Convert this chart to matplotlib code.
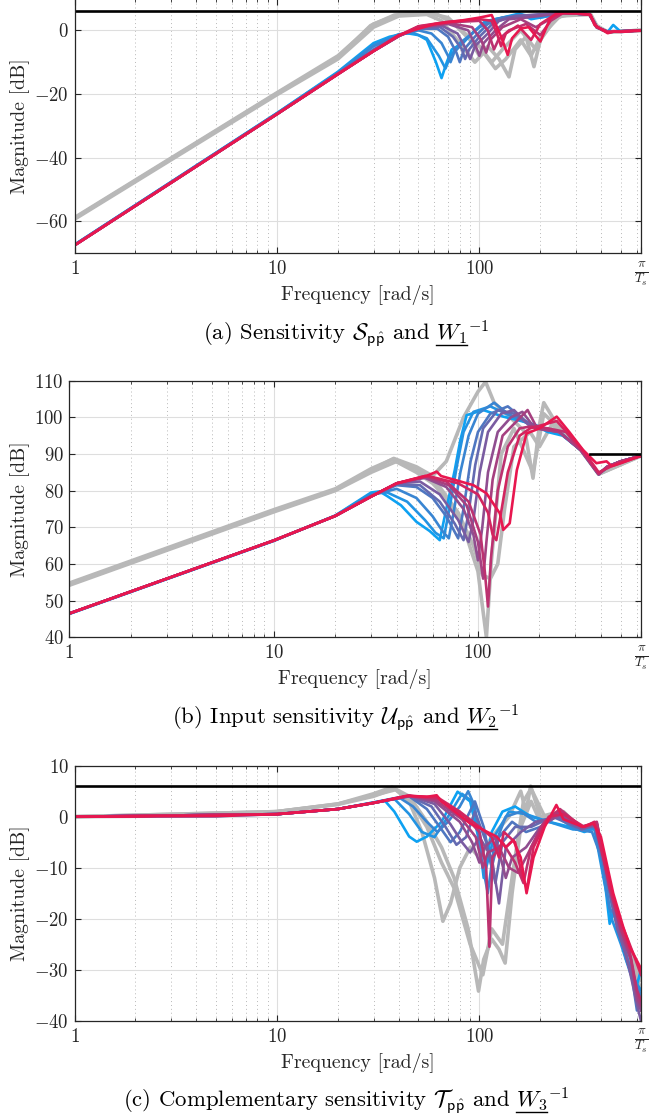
import numpy as np
import matplotlib
matplotlib.use("Agg")
import matplotlib.pyplot as plt
from matplotlib.lines import Line2D
from matplotlib.ticker import FixedLocator, FixedFormatter, LogLocator, NullFormatter

# ---------------------------------------------------------------- data
# frequency axis ends at the Nyquist frequency pi/Ts (Ts = 5 ms)
f_nyq = 200 * np.pi

# (a) sensitivity, grey = measured curves of the initial controller
s_grey = [
    [(1, -59), (10, -19.8), (20, -8.5), (29, 1.5), (38, 4.8), (50, 5.2), (62, 5), (75, 2), (90, -3),
     (100, -8), (110, -5), (125, -9), (140, -14.6), (150, -6), (170, -2), (186, -11.4), (200, -3),
     (240, 4), (300, 5.5), (355, 5), (380, 1.5), (430, -0.5), (628, 0)],
    [(1, -59.3), (10, -20.2), (20, -9), (30, 1), (40, 4.5), (55, 5), (65, 3), (80, -4), (95, -10),
     (105, -7), (120, -12), (135, -9), (160, -3), (180, -8), (200, -2), (250, 4.5), (350, 5), (380, 1),
     (430, -0.5), (628, 0)],
    [(1, -58.8), (10, -19.6), (20, -8), (30, 2), (40, 5), (55, 5.5), (70, 4), (85, -1), (100, -5),
     (115, -10), (130, -6), (160, 0), (190, -6), (220, 2), (260, 5), (350, 5), (380, 1), (430, -0.5),
     (628, 0)],
]
# (a) sensitivity, coloured = iterations (blue -> red)
s_iter = [
    [(1, -67.3), (10, -26), (20, -13), (30, -4), (36, -2), (44, -0.9), (50, -1.5), (55, -3), (61, -10),
     (65, -15), (69, -10), (73, -6), (83, -4), (95, 0), (110, 3), (130, 4), (158, 5.3), (180, 3.5),
     (220, 4.5), (260, 5.5), (350, 5), (380, 1), (430, -0.5), (458, 1.7), (500, -0.5), (628, 0)],
    [(1, -67.3), (10, -26), (20, -13.2), (30, -4.5), (40, -1.2), (47, -0.8), (55, -2.5), (63, -8),
     (68, -12), (72, -8), (80, -4), (92, -1), (105, 2.5), (130, 4), (160, 5), (200, 4), (260, 5.5),
     (350, 5), (380, 1), (430, -0.5), (628, 0)],
    [(1, -67.4), (10, -26.1), (20, -13.4), (30, -5), (40, -1.5), (50, 0), (58, -1), (65, -4), (70, -8),
     (72, -10), (75, -7), (85, -3), (100, 1), (120, 3.5), (150, 4.5), (200, 4.5), (260, 5.5), (350, 5),
     (380, 1), (430, -0.5), (628, 0)],
    [(1, -67.4), (10, -26.2), (20, -13.6), (30, -6), (40, -1.5), (50, 0.5), (62, 0.5), (70, -2), (77, -7),
     (80, -10), (84, -6), (95, -2), (110, 2), (130, 4), (160, 4.5), (260, 5.5), (350, 5), (380, 1),
     (430, -0.5), (628, 0)],
    [(1, -67.4), (10, -26.2), (20, -13.6), (30, -6.2), (40, -1.6), (50, 0.6), (64, 1), (74, -2), (82, -6),
     (85, -9), (89, -6), (100, -2), (118, 2.5), (140, 4), (260, 5.5), (350, 5), (380, 1), (430, -0.5),
     (628, 0)],
    [(1, -67.5), (10, -26.3), (20, -13.7), (30, -6.5), (40, -1.8), (50, 0.8), (65, 1.5), (78, -1), (86, -6),
     (90, -9), (95, -5), (110, -1), (125, 3), (150, 4.5), (260, 5.5), (350, 5), (380, 1), (430, -0.5),
     (628, 0)],
    [(1, -67.5), (10, -26.3), (20, -13.7), (30, -6.5), (40, -1.8), (50, 1), (70, 2), (88, 0), (96, -5),
     (100, -8), (105, -4), (120, 0), (140, 3.5), (170, 4), (260, 5.5), (350, 5), (380, 1), (430, -0.5),
     (628, 0)],
    [(1, -67.5), (10, -26.3), (20, -13.7), (30, -6.5), (40, -1.8), (50, 1.1), (72, 2.2), (92, 1), (102, -3),
     (108, -7), (113, -3), (130, 1), (160, 3.5), (190, 1), (230, 4), (260, 5.5), (350, 5), (380, 1),
     (430, -0.5), (628, 0)],
    [(1, -67.5), (10, -26.3), (20, -13.8), (30, -6.5), (40, -1.8), (50, 1.2), (70, 2.5), (100, 3), (110, 0),
     (118, -6), (124, -3), (140, 0), (170, 2), (200, -1.5), (225, 3), (260, 5.5), (350, 5), (380, 1),
     (430, -0.5), (628, 0)],
    [(1, -67.5), (10, -26.3), (20, -13.8), (30, -6.5), (40, -1.6), (50, 1.3), (70, 2.7), (100, 3.5),
     (115, 3), (122, -1), (128, -5), (135, -1), (155, 1.5), (180, -3), (200, 2), (230, 4.5), (260, 5.5),
     (350, 5), (380, 1), (430, -0.5), (628, 0)],
    [(1, -67.5), (10, -26.3), (20, -13.7), (30, -6.5), (40, -1.5), (47, 0), (60, 2), (80, 3), (100, 4),
     (115, 4.8), (128, -2), (138, -7.7), (145, -2.5), (160, 0.6), (175, 1), (200, -3.5), (224, 3.8),
     (240, 5.3), (300, 5.5), (355, 4.8), (370, 1.7), (430, -0.9), (460, -0.4), (500, -0.5), (628, -0.1)],
]
w1_inv = [(1, 6.0), (628.3, 6.0)]

# (b) input sensitivity
u_grey = [
    [(1, 54.5), (10, 74.5), (20, 80.2), (30, 85.6), (38.7, 88.8), (50, 86.5), (60, 84), (70, 88),
     (85, 100), (100, 107), (109, 109.7), (120, 104), (150, 99), (170, 96), (186, 83.4), (200, 98),
     (210, 104), (250, 97), (320, 91), (390, 84.5), (430, 86.5), (628, 89.5)],
    [(1, 54.8), (10, 74.8), (20, 80.5), (30, 86), (38, 88.5), (50, 85), (60, 82), (70, 78), (85, 70),
     (100, 58), (110, 40), (116, 60), (130, 90), (150, 97), (186, 85), (210, 101), (250, 97), (320, 91),
     (390, 84.5), (628, 89.5)],
    [(1, 54.2), (10, 74.2), (20, 80), (30, 85), (40, 88), (50, 86), (65, 81), (80, 74), (95, 65),
     (105, 57), (115, 56), (125, 60), (135, 75), (150, 92), (180, 96), (200, 92), (230, 98), (320, 91),
     (390, 84.5), (628, 89.5)],
]
u_iter = [
    [(1, 46.4), (10, 66.3), (20, 73.2), (30, 79.5), (33, 79.8), (36, 78.5), (42, 76), (50, 71.5),
     (58, 69), (65, 66.5), (70, 75), (77, 85.6), (82, 93.8), (88, 100.6), (106, 102), (133, 100.2),
     (180, 98.4), (220, 96), (260, 95), (320, 91), (390, 84.5), (430, 86.5), (500, 88), (628, 89.5)],
    [(1, 46.4), (10, 66.3), (20, 73.2), (30, 79.2), (36, 79.5), (45, 77), (55, 72), (62, 68.5), (68, 67),
     (73, 76), (79, 87), (85, 96), (95, 101.5), (115, 103), (150, 100), (200, 97.5), (250, 96), (320, 91),
     (390, 84.5), (430, 86.5), (500, 88), (628, 89.5)],
    [(1, 46.5), (10, 66.4), (20, 73.1), (30, 78.8), (40, 80.5), (50, 78), (60, 73), (67, 69), (72, 67),
     (76, 74), (82, 85), (90, 95), (100, 101), (120, 104), (140, 101), (180, 98), (250, 96), (320, 91),
     (390, 84.5), (430, 86.5), (500, 88), (628, 89.5)],
    [(1, 46.5), (10, 66.4), (20, 73.1), (30, 78.5), (40, 81.5), (50, 81), (60, 78), (70, 73), (80, 67),
     (85, 75), (92, 88), (100, 96), (115, 101), (140, 103), (180, 98), (250, 96), (320, 91), (390, 84.5),
     (430, 86.5), (500, 88), (628, 89.5)],
    [(1, 46.5), (10, 66.4), (20, 73.1), (30, 78.5), (40, 81.8), (52, 81.5), (65, 77), (77, 71), (85, 66.5),
     (90, 74), (97, 87), (106, 97), (125, 102), (150, 101), (180, 98), (250, 96), (320, 91), (390, 84.5),
     (430, 86.5), (500, 88), (628, 89.5)],
    [(1, 46.5), (10, 66.4), (20, 73.1), (30, 78.4), (40, 82), (52, 82.5), (65, 79), (80, 72), (90, 66),
     (95, 72), (102, 85), (112, 96), (130, 101), (150, 102), (180, 97.5), (250, 96), (320, 91),
     (390, 84.5), (430, 86.5), (500, 88), (628, 89.5)],
    [(1, 46.5), (10, 66.4), (20, 73.1), (30, 78.4), (40, 82), (55, 83.5), (70, 81), (85, 75), (95, 68),
     (100, 61), (105, 70), (112, 85), (125, 96), (145, 100), (165, 101.5), (190, 97), (250, 96), (320, 91),
     (390, 84.5), (430, 86.5), (500, 88), (628, 89.5)],
    [(1, 46.5), (10, 66.4), (20, 73.1), (30, 78.4), (40, 82), (55, 83.8), (72, 81.5), (88, 76), (100, 66),
     (106, 56), (110, 66), (118, 83), (132, 95), (155, 99), (175, 102), (195, 97), (250, 96), (320, 91),
     (390, 84.5), (430, 86.5), (500, 88), (628, 89.5)],
    [(1, 46.5), (10, 66.4), (20, 73.1), (30, 78.4), (40, 82), (55, 84), (70, 82.5), (90, 77), (103, 68),
     (108, 58), (112, 48.4), (116, 62), (125, 80), (140, 92), (160, 97), (180, 97.5), (220, 97), (270, 96),
     (320, 91), (390, 84.5), (430, 86.5), (500, 88), (628, 89.5)],
    [(1, 46.5), (10, 66.4), (20, 73.1), (30, 78.4), (40, 82), (57, 84), (80, 82), (100, 79), (112, 74),
     (118, 68), (123, 66.5), (128, 72), (140, 85), (160, 95), (180, 97), (243, 99), (327, 91), (390, 85),
     (452, 86.7), (628, 89.5)],
    [(1, 46.5), (10, 66.4), (20, 73.1), (30, 78.4), (40, 82), (57, 84.2), (62.8, 85.2), (66, 84),
     (95, 81.5), (110, 79.3), (128, 73.8), (133, 69.3), (143, 71.1), (155, 85.6), (173, 95.6), (200, 97),
     (243, 100.2), (280, 96), (327, 91.1), (380, 87.5), (426, 88), (452, 86.7), (500, 87.5), (628, 89.5)],
]
w2_inv = [(355, 90.0), (628.3, 90.0)]

# (c) complementary sensitivity
t_grey = [
    [(1, 0), (5, 0.2), (10, 1), (20, 2.5), (30, 4.2), (38.6, 5.3), (45, 3), (52, -3), (60, -12),
     (66, -20.5), (72, -17), (80, -10), (90, -6), (100, -8), (115, -4), (140, 0), (160, 5), (170, 1),
     (179, 6), (200, 0), (250, 1), (320, -2), (380, -1.5), (430, -13), (500, -22), (560, -28), (628, -34)],
    [(1, 0), (10, 1), (20, 2.5), (30, 4.5), (37, 5.8), (45, 4), (55, -1), (65, -6), (75, -12), (88, -22),
     (99, -34.2), (105, -28), (115, -24), (125, -26), (134, -28.7), (145, -15), (160, -2), (180, 3),
     (200, -1), (250, 1), (320, -2), (380, -2), (430, -12), (500, -22), (560, -27), (628, -32)],
    [(1, 0), (10, 1), (20, 2.4), (30, 4), (38, 5.5), (45, 3.5), (55, -2), (65, -9), (75, -14), (90, -25),
     (104, -31), (115, -22), (130, -25), (145, -12), (165, 3), (180, 5.5), (210, 0), (260, 1), (320, -2.5),
     (380, -2), (440, -16), (500, -24), (570, -30), (628, -36)],
]
t_iter = [
    [(1, 0), (5, 0.1), (10, 0.5), (20, 1.5), (30, 2.7), (34, 3.2), (38, 1), (45, -3.9), (49, -4.9),
     (55, -3.9), (65, -1), (78, 4.9), (90, 3), (100, -5), (105, -12), (115, -3), (130, 1), (150, 2),
     (180, 0), (220, -1), (280, -2), (330, -3), (380, -2), (420, -14), (440, -21), (470, -18), (520, -26),
     (560, -30), (600, -33), (628, -30)],
    [(1, 0), (10, 0.5), (20, 1.5), (30, 2.8), (38, 3.5), (45, 0.5), (52, -3), (60, -4), (70, 0), (82, 4.5),
     (92, 3), (100, -3), (108, -10), (118, -4), (140, 1), (170, 0.5), (220, -1), (290, -2.5), (370, -2.5),
     (410, -12), (450, -20), (500, -25), (560, -31), (628, -34)],
    [(1, 0), (10, 0.5), (20, 1.5), (30, 2.8), (40, 3.8), (47, 2), (55, -1), (62, -3), (70, -1), (80, 2),
     (88, 5), (95, 2), (102, -8), (110, -15), (118, -6), (135, 0), (160, 1), (190, -1), (240, 0),
     (300, -2.5), (360, -3), (400, -8), (440, -18), (480, -20), (530, -28), (580, -32), (628, -35)],
    [(1, 0), (10, 0.5), (20, 1.5), (30, 2.7), (45, 4), (55, 1.5), (65, -2.5), (72, -5), (80, -3), (95, 3),
     (105, -2), (115, -10), (125, -4), (145, -1), (170, -3), (200, -2), (250, 0.5), (300, -2), (370, -2),
     (410, -9), (450, -17), (500, -24), (560, -30), (600, -38), (628, -36)],
    [(1, 0), (10, 0.5), (20, 1.5), (30, 2.7), (45, 4), (58, 2), (68, -2), (77, -5.5), (86, -4), (95, 1),
     (108, -5), (120, -13), (130, -5), (150, -2), (180, -2), (230, 0), (300, -2), (375, -2), (420, -11),
     (470, -20), (520, -26), (580, -33), (628, -37)],
    [(1, 0), (10, 0.5), (20, 1.5), (30, 2.7), (45, 4.1), (60, 2.5), (72, -1.5), (82, -5), (90, -7),
     (100, -4), (115, -8), (125, -17), (135, -6), (160, -3), (190, -1), (250, 0), (320, -2.5), (380, -1.5),
     (430, -12), (480, -22), (530, -27), (580, -34), (610, -38), (628, -40)],
    [(1, 0), (10, 0.5), (20, 1.5), (30, 2.7), (45, 4.1), (60, 3), (80, -1), (92, -5), (100, -9), (106, -6),
     (120, -4), (135, -12), (145, -8), (170, -6), (200, -2), (250, 0.5), (320, -2), (380, -1.5),
     (440, -13), (500, -23), (560, -28), (600, -36), (628, -38)],
    [(1, 0), (10, 0.5), (20, 1.5), (30, 2.7), (45, 4.1), (61, 3.2), (82, -0.5), (96, -4), (104, -10),
     (110, -7), (125, -6), (140, -10), (155, -11), (175, -7), (205, -1.5), (250, 1), (320, -2), (380, -1.2),
     (440, -14), (500, -22), (560, -28), (610, -36), (628, -37)],
    [(1, 0), (10, 0.5), (20, 1.5), (30, 2.7), (45, 4.1), (62, 3.5), (85, 0), (100, -3), (108, -10),
     (112, -25.5), (116, -8), (130, -5), (150, -9), (165, -13), (180, -6), (210, -1), (250, 1.5),
     (320, -2), (380, -1), (440, -14), (500, -22), (550, -26), (600, -34), (628, -36)],
    [(1, 0), (10, 0.5), (20, 1.5), (30, 2.7), (45, 4.1), (62, 3.8), (80, 1), (100, -2), (115, -4),
     (125, -8), (132, -3), (150, -5), (163, -12), (172, -14), (185, -6), (220, 0), (260, 0.5), (330, -2),
     (370, -1), (420, -10), (480, -19), (540, -24), (590, -28), (628, -31)],
    [(1, 0), (5, 0.1), (10, 0.5), (20, 1.5), (30, 2.7), (43.7, 4.1), (55, 3.9), (61.5, 4.2), (65, 3),
     (89.8, -1.3), (121.6, -3.9), (135, -6), (147, -4.6), (160, -8), (171, -15), (185, -8), (210, -2),
     (240, 2.3), (260, -0.5), (325, -2), (365, -1.3), (398, -3.9), (458, -15), (513, -21.6),
     (553, -25.5), (621, -29.4), (628, -30)],
]
w3_inv = [(1, 6.0), (628.3, 6.0)]

x_ticks = [1, 10, 100, f_nyq]
x_ticklabels = [r"$1$", r"$10$", r"$100$", r"$\frac{\pi}{T_s}$"]

# ---------------------------------------------------------------- style
plt.rcParams["font.family"] = "cmr10"
plt.rcParams["mathtext.fontset"] = "cm"
plt.rcParams["axes.unicode_minus"] = False

W, H = 671, 1120
fig = plt.figure(figsize=(W / 100, H / 100), dpi=100)

c_blue = np.array([0.05, 0.63, 0.95])
c_red = np.array([0.91, 0.09, 0.31])
c_grey = (0.72, 0.72, 0.72)
c_axis = (0.15, 0.15, 0.15)
fs_tick = 13.5
fs_label = 14.3
fs_cap = 16.4


def box(left, right, top, bottom):
    return [left / W, 1 - bottom / H, (right - left) / W, (bottom - top) / H]


def curve(points):
    f, m = zip(*points)
    return np.array(f), np.array(m)


panels = [
    dict(box=(74.5, 641, -1.5, 253.3), ylim=(-70, 10), yticks=[-60, -40, -20, 0],
         grey=s_grey, iters=s_iter, bound=w1_inv,
         caption=(r"(a) Sensitivity $\mathcal{S}_{\mathsf{p\hat{p}}}$ and ", r"$W_1$", r"$W_1{}^{-1}$")),
    dict(box=(69.4, 641, 380.7, 637.3), ylim=(40, 110), yticks=list(range(40, 111, 10)),
         grey=u_grey, iters=u_iter, bound=w2_inv,
         caption=(r"(b) Input sensitivity $\mathcal{U}_{\mathsf{p\hat{p}}}$ and ", r"$W_2$", r"$W_2{}^{-1}$")),
    dict(box=(74.5, 641, 765.7, 1020.7), ylim=(-40, 10), yticks=list(range(-40, 11, 10)),
         grey=t_grey, iters=t_iter, bound=w3_inv,
         caption=(r"(c) Complementary sensitivity $\mathcal{T}_{\mathsf{p\hat{p}}}$ and ", r"$W_3$",
                  r"$W_3{}^{-1}$")),
]

captions = []
for p in panels:
    left, right, top, bottom = p["box"]
    ax = fig.add_axes(box(left, right, top, bottom))
    ax.set_xscale("log")
    ax.set_xlim(1, f_nyq)
    ax.set_ylim(*p["ylim"])
    ax.set_axisbelow(True)

    for pts in p["grey"]:
        ax.plot(*curve(pts), color=c_grey, lw=2.6, solid_joinstyle="round")
    n = len(p["iters"])
    for i, pts in enumerate(p["iters"]):
        t = i / (n - 1)
        ax.plot(*curve(pts), color=(1 - t) * c_blue + t * c_red, lw=1.9, solid_joinstyle="round")
    ax.plot(*curve(p["bound"]), color="k", lw=1.9)

    ax.xaxis.set_major_locator(FixedLocator(x_ticks))
    ax.xaxis.set_major_formatter(FixedFormatter(x_ticklabels))
    ax.xaxis.set_minor_locator(LogLocator(base=10, subs=np.arange(2, 10)))
    ax.xaxis.set_minor_formatter(NullFormatter())
    ax.yaxis.set_major_locator(FixedLocator(p["yticks"]))
    ax.yaxis.set_major_formatter(FixedFormatter([r"$%d$" % v for v in p["yticks"]]))

    ax.grid(True, which="major", color=(0.87, 0.87, 0.87), lw=0.8)
    ax.grid(True, which="minor", axis="x", color=(0.72, 0.72, 0.72), lw=0.7, ls=(0, (1, 3)))
    ax.tick_params(which="both", direction="in", top=True, right=True, color=c_axis,
                   labelcolor=c_axis, labelsize=fs_tick)
    ax.tick_params(which="major", length=4, width=0.8)
    ax.tick_params(which="minor", length=2.5, width=0.6)
    ax.tick_params(axis="x", pad=5)
    ax.tick_params(axis="y", pad=4)
    for s in ax.spines.values():
        s.set_color(c_axis)
        s.set_linewidth(0.9)

    fig.text(20.5 / W, 1 - (top + bottom) / 2 / H, "Magnitude [dB]", rotation=90,
             ha="center", va="center", fontsize=fs_label, color=c_axis)
    fig.text((left + right) / 2 / W, 1 - (bottom + 42) / H, "Frequency [rad/s]",
             ha="center", va="center", fontsize=fs_label, color=c_axis)

    prefix, sym, symsup = p["caption"]
    cap = fig.text(346 / W, 1 - (bottom + 86) / H, prefix + symsup, ha="center", va="baseline",
                   fontsize=fs_cap, color="k")
    captions.append((cap, prefix, sym, bottom + 86))

# underline the weighting filter in each caption
fig.canvas.draw()
renderer = fig.canvas.get_renderer()
for cap, prefix, sym, ybase in captions:
    bb = cap.get_window_extent(renderer)
    t1 = fig.text(0, 0.5, prefix + sym, fontsize=fs_cap)
    t2 = fig.text(0, 0.5, sym, fontsize=fs_cap)
    w1 = t1.get_window_extent(renderer).width
    w2 = t2.get_window_extent(renderer).width
    t1.remove()
    t2.remove()
    x1 = bb.x0 + w1
    x0 = x1 - w2
    y = H - ybase - 5.5
    fig.add_artist(Line2D([x0 / W, x1 / W], [y / H, y / H], transform=fig.transFigure,
                          color="k", lw=1.0))

fig.savefig("out.png", dpi=100)
